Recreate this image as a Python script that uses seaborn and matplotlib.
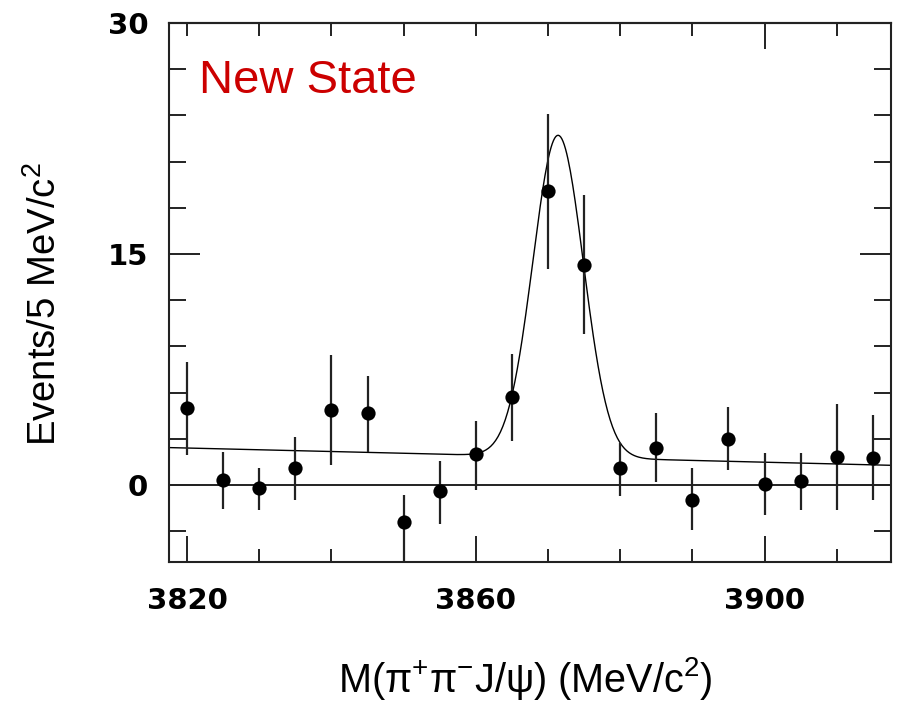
import numpy as np
import seaborn as sns
import matplotlib.pyplot as plt
from matplotlib.ticker import MultipleLocator, FixedLocator

# Data: M(pi+ pi- J/psi) bins, 5 MeV wide
mass = [3820, 3825, 3830, 3835, 3840, 3845, 3850, 3855, 3860, 3865,
        3870, 3875, 3880, 3885, 3890, 3895, 3900, 3905, 3910, 3915]
events = [5.0, 0.3, -0.2, 1.1, 4.9, 4.7, -2.4, -0.4, 2.0, 5.7,
          19.1, 14.3, 1.1, 2.4, -1.0, 3.0, 0.05, 0.25, 1.85, 1.75]
err_high = [8.0, 2.15, 1.1, 3.1, 8.45, 7.05, -0.65, 1.55, 4.15, 8.5,
            24.1, 18.8, 2.75, 4.65, 1.1, 5.05, 2.1, 2.1, 5.25, 4.55]
err_low = [1.95, -1.55, -1.65, -0.95, 1.3, 2.15, -5.3, -2.5, -0.3, 2.85,
           14.0, 9.8, -0.7, 0.2, -2.95, 1.0, -1.95, -1.65, -1.65, -1.0]

# Fit: gaussian peak on a linear background
bkg_left, bkg_right = 2.43, 1.28
peak_amp, peak_mean, peak_sigma = 20.9, 3871.4, 3.5
x_lo, x_hi = 3817.5, 3917.5

sns.set_style('ticks')
plt.rcParams['font.family'] = ['Liberation Sans', 'DejaVu Sans']
plt.rcParams['mathtext.fontset'] = 'custom'
plt.rcParams['mathtext.rm'] = 'Liberation Sans'
plt.rcParams['mathtext.it'] = 'Liberation Sans:italic'
plt.rcParams['text.color'] = 'black'
plt.rcParams['axes.labelcolor'] = 'black'

fig = plt.figure(figsize=(8.99, 7.08), dpi=100)
ax = fig.add_axes([0.188, 0.2062, 0.803, 0.7613])

ink = '#222222'

# fit curve
xf = np.linspace(x_lo, x_hi, 600)
bkg = bkg_left + (bkg_right - bkg_left) * (xf - x_lo) / (x_hi - x_lo)
fit = bkg + peak_amp * np.exp(-0.5 * ((xf - peak_mean) / peak_sigma) ** 2)
sns.lineplot(x=xf, y=fit, ax=ax, color='black', lw=1.0, zorder=2)

ax.axhline(0, color=ink, lw=1.4, zorder=1)

# data points with error bars
ev = np.array(events)
yerr = [ev - np.array(err_low), np.array(err_high) - ev]
ax.errorbar(mass, events, yerr=yerr, fmt='none', ecolor=ink, elinewidth=1.6,
            capsize=0, zorder=3)
sns.scatterplot(x=mass, y=events, ax=ax, color='black', s=105, marker='o',
                edgecolor='black', linewidth=0, zorder=4)

ax.set_xlim(x_lo, x_hi)
ax.set_ylim(-5, 30)

ax.xaxis.set_major_locator(FixedLocator([3820, 3860, 3900]))
ax.xaxis.set_minor_locator(MultipleLocator(10))
ax.yaxis.set_major_locator(FixedLocator([0, 15, 30]))
ax.yaxis.set_minor_locator(MultipleLocator(3))

ax.tick_params(axis='x', which='major', direction='in', length=19, width=1.4,
               color=ink, labelcolor='black', labelsize=21, pad=18, top=False)
ax.tick_params(axis='x', which='minor', direction='in', length=9.5, width=1.4,
               color=ink, top=False)
ax.tick_params(axis='y', which='major', direction='in', length=22, width=1.4,
               color=ink, labelcolor='black', labelsize=21, pad=15, right=True)
ax.tick_params(axis='y', which='minor', direction='in', length=12, width=1.4,
               color=ink, right=True)
for lab in ax.get_xticklabels() + ax.get_yticklabels():
    lab.set_family('DejaVu Sans')
    lab.set_fontweight('bold')

# top axis ticks: only 3900 is drawn long in the original
top = ax.secondary_xaxis('top')
top.xaxis.set_major_locator(FixedLocator([3900]))
top.xaxis.set_minor_locator(MultipleLocator(10))
top.tick_params(which='major', direction='in', length=19, width=1.4, color=ink,
                labeltop=False)
top.tick_params(which='minor', direction='in', length=9, width=1.4, color=ink)
top.spines['top'].set_linewidth(1.5)
top.spines['top'].set_color(ink)

for s in ax.spines.values():
    s.set_visible(True)
    s.set_linewidth(1.5)
    s.set_color(ink)

ax.set_xlabel(r'M(π$^{+}$π$^{-}$J/ψ) (MeV/c$^{2}$)', fontsize=28.5)
ax.xaxis.set_label_coords(0.493, -0.172)
ax.set_ylabel(r'Events/5 MeV/c$^{2}$', fontsize=27.5)
ax.yaxis.set_label_coords(-0.145, 0.479)

ax.text(0.041, 0.870, 'New State', transform=ax.transAxes, color='#cc0000',
        fontsize=34, ha='left', va='baseline')

fig.savefig('out.png', dpi=100, facecolor='white')
